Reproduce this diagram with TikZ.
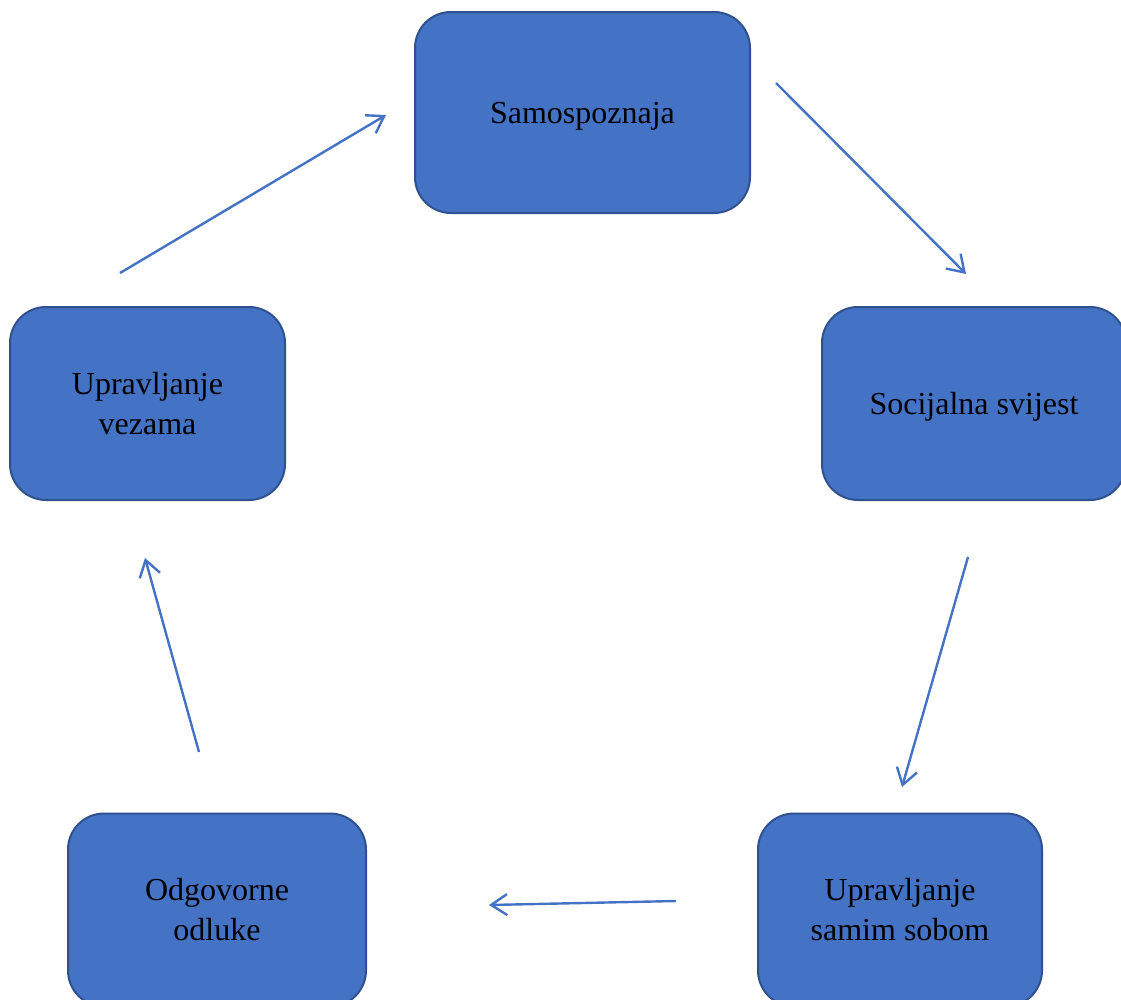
\documentclass[tikz,border=0pt]{standalone}
\usepackage{fontspec}
\setmainfont{Liberation Serif}
\usetikzlibrary{arrows.meta}

\definecolor{boxfill}{HTML}{4472C4}
\definecolor{boxline}{HTML}{2F528F}

\tikzset{
  skill/.style={draw=boxline, fill=boxfill, line width=2pt, rounded corners=36pt,
    inner sep=0pt, align=center, font=\fontsize{32}{40}\selectfont},
  oneline/.style={text depth=-9pt},
  cycle/.style={->, draw=boxfill, line width=2.4pt}
}

\begin{document}
\begin{tikzpicture}[x=1pt, y=-1pt, >={Straight Barb[length=16pt,width=21pt]}]

  \useasboundingbox (0,0) rectangle (1121,999);

  \node[skill, oneline, minimum width=335pt, minimum height=201pt] (samo) at (582.5,112.5) {Samospoznaja};
  \node[skill, oneline, minimum width=304pt, minimum height=193pt] (soc) at (974,403.5) {Socijalna svijest};
  \node[skill, minimum width=284pt, minimum height=193pt] (sam) at (900,910) {Upravljanje\\samim sobom};
  \node[skill, minimum width=298pt, minimum height=193pt] (odl) at (217,910) {Odgovorne\\odluke};
  \node[skill, minimum width=275pt, minimum height=193pt] (vez) at (147.5,403.5) {Upravljanje\\vezama};

  % free ends of the arrows
  \coordinate (a1) at (776,83);   \coordinate (b1) at (966,274);
  \coordinate (a2) at (968,557);  \coordinate (b2) at (902,787);
  \coordinate (a3) at (676,901);  \coordinate (b3) at (489,905);
  \coordinate (a4) at (199,752);  \coordinate (b4) at (145,558);
  \coordinate (a5) at (120,273);  \coordinate (b5) at (386,115);

  \draw[cycle] (a1) -- (b1);
  \draw[cycle] (a2) -- (b2);
  \draw[cycle] (a3) -- (b3);
  \draw[cycle] (a4) -- (b4);
  \draw[cycle] (a5) -- (b5);

\end{tikzpicture}
\end{document}
